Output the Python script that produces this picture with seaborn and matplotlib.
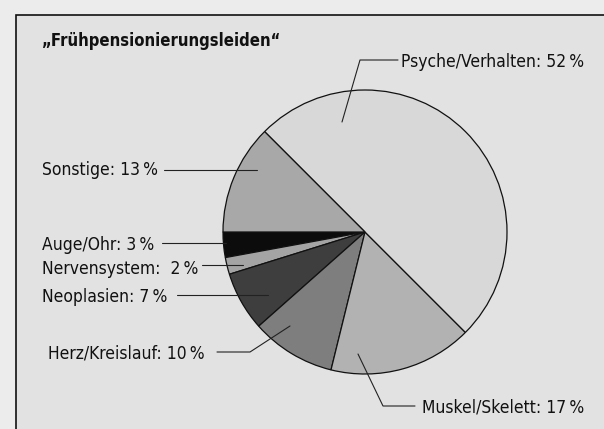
import matplotlib
matplotlib.use("Agg")
import matplotlib.pyplot as plt
import seaborn as sns
from matplotlib.patches import Rectangle

sns.set_theme(style="white")
plt.rcParams['font.family'] = ['DejaVu Sans']
plt.rcParams['font.stretch'] = 'condensed'

title = "„Frühpensionierungsleiden“"
categories = ["Auge/Ohr", "Nervensystem", "Neoplasien", "Herz/Kreislauf",
              "Muskel/Skelett", "Psyche/Verhalten", "Sonstige"]
values = [3, 2, 7, 10, 17, 52, 13]
labels = ["Auge/Ohr: 3\u2009%", "Nervensystem:  2\u2009%", "Neoplasien: 7\u2009%",
          "Herz/Kreislauf: 10\u2009%", "Muskel/Skelett: 17\u2009%",
          "Psyche/Verhalten: 52\u2009%", "Sonstige: 13\u2009%"]
colors = ["#0c0c0c", "#a4a4a4", "#3e3e3e", "#7e7e7e", "#b2b2b2", "#d8d8d8", "#a8a8a8"]

W, H = 604, 429
fig = plt.figure(figsize=(W / 100, H / 100), dpi=100, facecolor="#ececec")
ax = fig.add_axes([0, 0, 1, 1])

def Y(y):
    return H - y

cx, cy, r = 365, 232, 142
wedges, _ = ax.pie(values, colors=colors, startangle=180, counterclock=True,
                   center=(cx, Y(cy)), radius=r, frame=True,
                   wedgeprops=dict(edgecolor="#111111", linewidth=0.9))
ax.set_xlim(0, W)
ax.set_ylim(0, H)
ax.set_aspect("equal")
ax.axis("off")

# frame
ax.add_patch(Rectangle((16, -5), W, Y(15) + 5, facecolor="#e2e2e2",
                       edgecolor="#111111", linewidth=1.2, zorder=0))

ax.text(42, Y(41), title, fontsize=12, fontweight="bold", va="center", ha="left",
        color="#111111")

label_specs = {
    "Psyche/Verhalten": dict(xy=(401, 62), line=[(398, 60), (360, 60), (342, 122)]),
    "Sonstige": dict(xy=(42, 170), line=[(164, 170), (257, 170)]),
    "Auge/Ohr": dict(xy=(42, 245), line=[(162, 243), (226, 243)]),
    "Nervensystem": dict(xy=(42, 269), line=[(202, 265), (243, 265)]),
    "Neoplasien": dict(xy=(42, 297), line=[(177, 295), (268, 295)]),
    "Herz/Kreislauf": dict(xy=(48, 353), line=[(217, 352), (250, 352), (290, 326)]),
    "Muskel/Skelett": dict(xy=(422, 407), line=[(415, 406), (383, 406), (358, 354)]),
}

for cat, lab in zip(categories, labels):
    s = label_specs[cat]
    ax.text(s["xy"][0], Y(s["xy"][1]), lab, fontsize=12.5, ha="left", va="center",
            color="#111111")
    xs = [p[0] for p in s["line"]]
    ys = [Y(p[1]) for p in s["line"]]
    ax.plot(xs, ys, color="#222222", linewidth=0.8)

fig.savefig("out.png", dpi=100, facecolor=fig.get_facecolor())
